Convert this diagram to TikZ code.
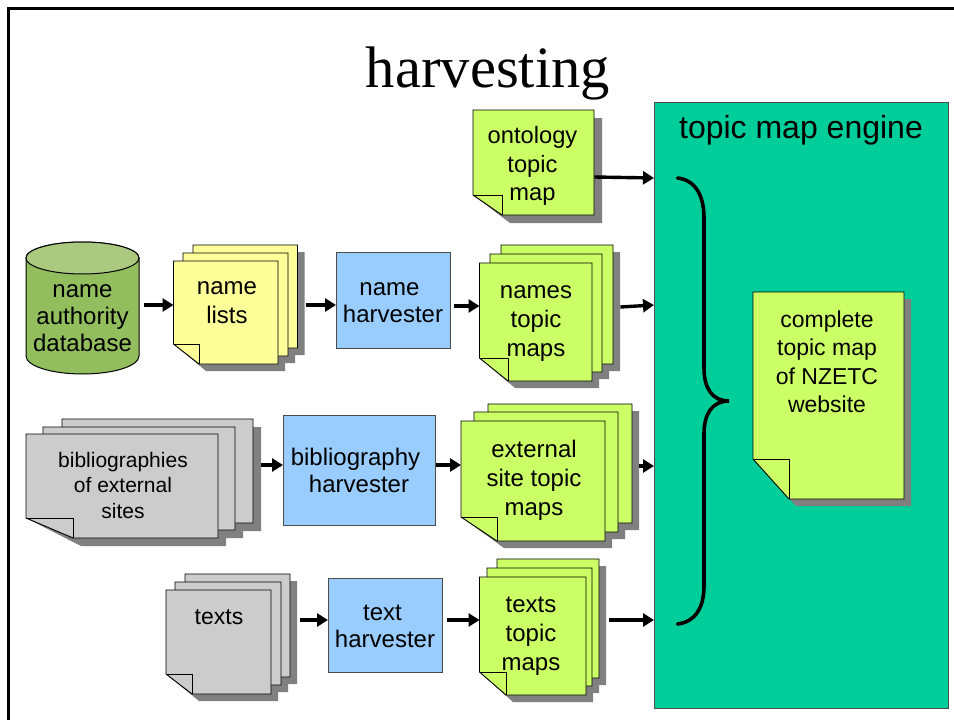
\documentclass[tikz,border=0pt]{standalone}
\usepackage{fontspec}
\setmainfont{Liberation Sans}
\newfontfamily\titlefont{Liberation Serif}
\usetikzlibrary{arrows.meta,calc}
\definecolor{yel}{HTML}{FFFF99}
\definecolor{lime}{HTML}{CCFF66}
\definecolor{gry}{HTML}{CCCCCC}
\definecolor{blu}{HTML}{99CCFF}
\definecolor{eng}{HTML}{00CE9A}
\definecolor{shad}{HTML}{808080}
\definecolor{cylside}{HTML}{92BE5E}
\definecolor{cyltop}{HTML}{ABC97F}
\tikzset{
  arr/.style={line width=3.4pt,-{Triangle[length=11pt,width=13pt]},black},
  sheet/.style={draw=black,line width=0.9pt,line join=miter},
  boxlabel/.style={align=center,inner sep=0pt,text=black},
  hit/.style={inner sep=0pt,anchor=north west},
  harv/.style={draw=black!70,line width=0.7pt,fill=blu,inner sep=0pt},
}
% \foldshadow{x1}{y1}{x2}{y2}{fold x}{fold y}{offset}
\newcommand{\foldshadow}[7]{%
  \fill[shad] (#1+#7,#2+#7) -- (#3+#7,#2+#7) -- (#3+#7,#4+#7) -- (#5+#7,#4+#7) -- (#1,#6) -- cycle;
}
% \backshadow{x1}{y1}{x2}{y2}{fold width}{fold height}{offset}
\newcommand{\backshadow}[7]{%
  \fill[shad] (#1+#7,#2+#7) -- (#3+#7,#2+#7) -- (#3+#7,#4+#7) -- (#1+#5+#7,#4+#7) -- (#1,#4-#6) -- cycle;
}
% \docsheet{x1}{y1}{x2}{y2}{fold x}{fold y}{fill}
\newcommand{\docsheet}[7]{%
  \path[sheet,fill=#7] (#1,#2) -- (#3,#2) -- (#3,#4) -- (#5,#4) -- (#1,#6) -- cycle;
  \draw[black,line width=0.9pt] (#1,#6) -- (#5,#6) -- (#5,#4);
}
% \backsheet{x1}{y1}{x2}{y2}{fold width}{fold height}{fill}
\newcommand{\backsheet}[7]{%
  \path[sheet,fill=#7] (#1,#2) -- (#3,#2) -- (#3,#4) -- (#1+#5,#4) -- (#1,#4-#6) -- cycle;
}
\begin{document}
\begin{tikzpicture}[x=1pt,y=-1pt]
\useasboundingbox (0,0) rectangle (954,720);
\fill[white] (0,0) rectangle (954,720);
\draw[black,line width=2.6pt] (8.5,720) -- (8.5,8.5) -- (954,8.5);
\node[font=\titlefont\fontsize{58.6}{60}\selectfont,inner sep=0pt] (title) at (488,73) {harvesting};

% engine
\node[draw=black!70,line width=0.9pt,fill=eng,minimum width=294pt,minimum height=606pt,inner sep=0pt,anchor=north west] (engine) at (654,102) {};
\node[font=\fontsize{32}{34}\selectfont,inner sep=0pt] (enginelabel) at (801,130) {topic map engine};
\draw[line width=3.6pt,line cap=round] (677.5,178) .. controls (695,180) and (704,195) .. (704,218) -- (704,368) .. controls (704,388) and (712,401) .. (729,401) .. controls (712,401) and (704,414) .. (704,434) -- (704,586) .. controls (704,608) and (695,622) .. (677.5,624);

% ontology
\foldshadow{473}{110}{594}{215}{502}{195}{8}
\docsheet{473}{110}{594}{215}{502}{195}{lime}
\node[hit,minimum width=121pt,minimum height=105pt] (onto) at (473,110) {};
\node[boxlabel,font=\fontsize{23.7}{28.5}\selectfont] (ontotxt) at (532.5,166) {ontology\\topic\\map};

% cylinder
\path[draw=black,line width=1pt,fill=cylside] (26,258) -- (26,356) arc[start angle=180,end angle=0,x radius=56.5pt,y radius=-18pt] -- (139,258) arc[start angle=0,end angle=180,x radius=56.5pt,y radius=16pt] -- cycle;
\path[draw=black,line width=1pt,fill=cyltop] (82.5,258) ellipse[x radius=56.5pt,y radius=16pt];
\node[hit,minimum width=113pt,minimum height=132pt] (cyl) at (26,242) {};
\node[boxlabel,font=\fontsize{24}{27}\selectfont] (cyltxt) at (82.5,318) {name\\authority\\database};

% name lists
\backshadow{193}{245}{297.5}{348}{26}{20}{7}
\backshadow{183}{253}{288}{356}{26}{20}{7}
\foldshadow{173.5}{261}{278}{364}{199}{344}{7}
\backsheet{193}{245}{297.5}{348}{26}{20}{yel}
\backsheet{183}{253}{288}{356}{26}{20}{yel}
\docsheet{173.5}{261}{278}{364}{199}{344}{yel}
\node[hit,minimum width=131pt,minimum height=126pt] (lists) at (173.5,245) {};
\node[boxlabel,font=\fontsize{24}{29}\selectfont] (liststxt) at (227,303) {name\\lists};

% name harvester
\node[harv,minimum width=114pt,minimum height=96pt,anchor=north west] (nh) at (336,252) {};
\node[boxlabel,font=\fontsize{24}{27}\selectfont] (nhtxt) at (393,303) {name\hspace*{7pt}\\harvester};

% names topic maps
\backshadow{501}{245}{613}{364}{28}{23}{7}
\backshadow{490}{254}{602}{372}{28}{23}{7}
\foldshadow{479.5}{263}{592}{381}{508}{358}{7}
\backsheet{501}{245}{613}{364}{28}{23}{lime}
\backsheet{490}{254}{602}{372}{28}{23}{lime}
\docsheet{479.5}{263}{592}{381}{508}{358}{lime}
\node[hit,minimum width=140.5pt,minimum height=143pt] (ntm) at (479.5,245) {};
\node[boxlabel,font=\fontsize{24}{29}\selectfont] (ntmtxt) at (536,324) {names\\topic\\maps};

% bibliographies
\backshadow{62}{419}{253}{523}{47}{20}{8}
\backshadow{43}{427}{235}{530}{47}{20}{8}
\foldshadow{26}{434}{218}{538}{73}{518}{8}
\backsheet{62}{419}{253}{523}{47}{20}{gry}
\backsheet{43}{427}{235}{530}{47}{20}{gry}
\docsheet{26}{434}{218}{538}{73}{518}{gry}
\node[hit,minimum width=235pt,minimum height=127pt] (bibs) at (26,419) {};
\node[boxlabel,font=\fontsize{21}{25.5}\selectfont] (bibstxt) at (123,485) {bibliographies\\of external\\sites};

% bibliography harvester
\node[harv,minimum width=152pt,minimum height=110pt,anchor=north west] (bh) at (283,415) {};
\node[boxlabel,font=\fontsize{24}{27}\selectfont] (bhtxt) at (355.5,470) {bibliography\\\hspace*{7pt}harvester};

% external site topic maps
\backshadow{488}{404}{632}{523}{36}{24}{7}
\backshadow{474}{412}{618}{532}{36}{24}{7}
\foldshadow{461}{421}{605}{541}{497}{517}{7}
\backsheet{488}{404}{632}{523}{36}{24}{lime}
\backsheet{474}{412}{618}{532}{36}{24}{lime}
\docsheet{461}{421}{605}{541}{497}{517}{lime}
\node[hit,minimum width=178pt,minimum height=144pt] (etm) at (461,404) {};
\node[boxlabel,font=\fontsize{24}{29}\selectfont] (etmtxt) at (534,480) {external\\site topic\\maps};

% texts
\backshadow{185}{574}{290}{677}{26}{20}{7}
\backshadow{175}{582}{281}{685}{26}{20}{7}
\foldshadow{166}{590}{271}{694}{192}{674}{7}
\backsheet{185}{574}{290}{677}{26}{20}{gry}
\backsheet{175}{582}{281}{685}{26}{20}{gry}
\docsheet{166}{590}{271}{694}{192}{674}{gry}
\node[hit,minimum width=131pt,minimum height=127pt] (texts) at (166,574) {};
\node[boxlabel,font=\fontsize{23}{27}\selectfont] (textstxt) at (219,617) {texts};

% text harvester
\node[harv,minimum width=114pt,minimum height=94pt,anchor=north west] (th) at (328,578) {};
\node[boxlabel,font=\fontsize{24}{27}\selectfont] (thtxt) at (385,626) {text\hspace*{5pt}\\harvester};

% texts topic maps
\backshadow{497}{559}{599}{678}{27}{23}{7}
\backshadow{487}{568}{592}{686}{27}{23}{7}
\foldshadow{479.5}{577}{586}{695}{506}{672}{7}
\backsheet{497}{559}{599}{678}{27}{23}{lime}
\backsheet{487}{568}{592}{686}{27}{23}{lime}
\docsheet{479.5}{577}{586}{695}{506}{672}{lime}
\node[hit,minimum width=126.5pt,minimum height=143pt] (ttm) at (479.5,559) {};
\node[boxlabel,font=\fontsize{24}{29}\selectfont] (ttmtxt) at (531,636) {texts\\topic\\maps};

% complete
\foldshadow{753}{292}{904}{499}{789}{459}{7}
\docsheet{753}{292}{904}{499}{789}{459}{lime}
\node[hit,minimum width=151pt,minimum height=207pt] (complete) at (753,292) {};
\node[boxlabel,font=\fontsize{23}{28.5}\selectfont] (completetxt) at (827,362) {complete\\topic map\\of NZETC\\website};

% connectors
\draw[arr] (onto.east |- 0,177) -- (engine.west |- 0,178);
\draw[arr,shorten <=5pt] (cyl.east |- 0,305) -- (lists.west |- 0,305);
\draw[arr,shorten <=1.5pt] (lists.east |- 0,305) -- (nh.west |- 0,305);
\draw[arr,shorten <=3pt] (nh.east |- 0,306) -- (ntm.west |- 0,306);
\draw[arr] (ntm.east |- 0,307) -- (engine.west |- 0,305);
\draw[arr] (bibs.east |- 0,465) -- (bh.west |- 0,465);
\draw[arr] (bh.east |- 0,465) -- (etm.west |- 0,465);
\draw[arr] (etm.east |- 0,466) -- (engine.west |- 0,466);
\draw[arr,shorten <=3pt] (texts.east |- 0,620) -- (th.west |- 0,620);
\draw[arr,shorten <=4pt] (th.east |- 0,620) -- (ttm.west |- 0,620);
\draw[arr,shorten <=3pt] (ttm.east |- 0,620) -- (engine.west |- 0,620);
\end{tikzpicture}
\end{document}
